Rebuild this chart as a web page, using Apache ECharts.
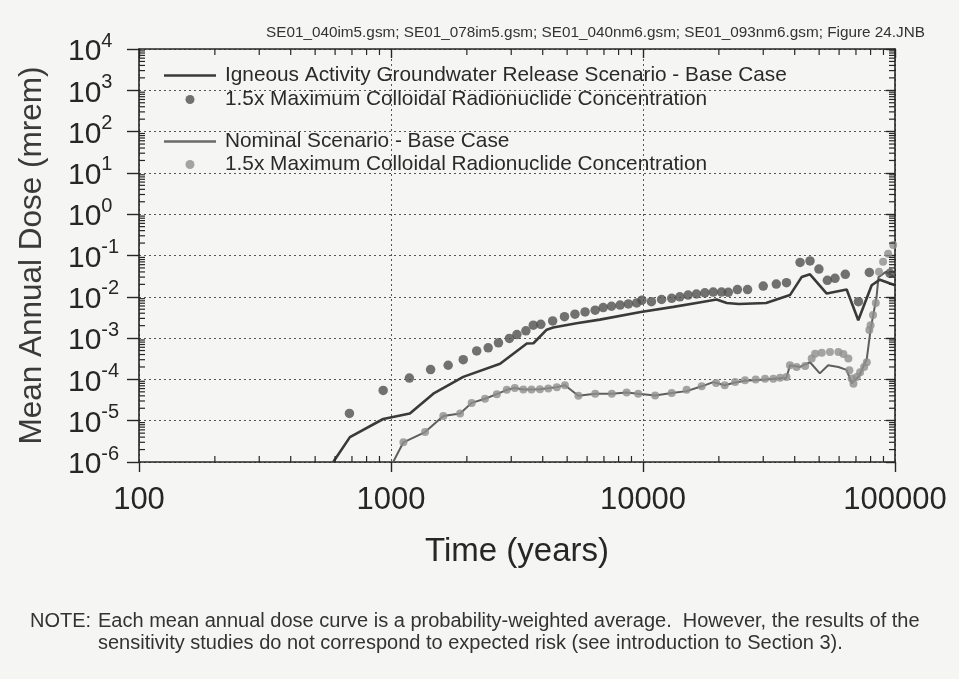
<!DOCTYPE html>
<html>
<head>
<meta charset="utf-8">
<script src="https://cdn.jsdelivr.net/npm/echarts@6/dist/echarts.min.js"></script>
<style>
  html, body { margin: 0; padding: 0; background: #f5f5f3; }
  #chart { width: 959px; height: 679px; }
</style>
</head>
<body>
<div id="chart"></div>
<script>
// Time axis (years) and dose axis (mrem) ranges
const timeRange = [100, 100000];
const doseRange = [1e-6, 1e4];

// Legend texts
const legendLabels = {
  igneousBase: 'Igneous Activity Groundwater Release Scenario - Base Case',
  igneousColloid: '1.5x Maximum Colloidal Radionuclide Concentration',
  nominalBase: 'Nominal Scenario - Base Case',
  nominalColloid: '1.5x Maximum Colloidal Radionuclide Concentration'
};

// Igneous activity, groundwater release, base case [years, mrem]
const igneousBase = [
  [590, 1e-6], [687, 4e-6], [931, 1.1e-5], [1188, 1.5e-5], [1472, 4.5e-5],
  [1935, 1.15e-4], [2710, 2.4e-4], [3460, 7.4e-4], [3675, 7.5e-4], [4150, 1.6e-3],
  [4400, 1.8e-3], [5450, 2.3e-3], [6740, 2.8e-3], [9800, 4.3e-3], [13200, 5.7e-3],
  [16300, 7.1e-3], [19600, 8.6e-3], [21500, 7.1e-3], [24000, 6.7e-3], [30800, 7.1e-3],
  [38300, 1.1e-2], [42600, 3.0e-2], [46000, 3.5e-2], [53600, 1.2e-2], [64300, 1.5e-2],
  [71500, 2.7e-3], [80800, 1.9e-2], [87100, 2.6e-2], [100000, 1.9e-2]
];

// Igneous activity, 1.5x maximum colloidal concentration [years, mrem]
const igneousColloid = [
  [684, 1.5e-5], [931, 5.4e-5], [1183, 1.08e-4], [1436, 1.73e-4], [1686, 2.2e-4],
  [1935, 3.0e-4], [2188, 4.9e-4], [2430, 5.8e-4], [2670, 7.7e-4], [2950, 9.8e-4],
  [3160, 1.22e-3], [3430, 1.5e-3], [3670, 2.06e-3], [3930, 2.15e-3], [4380, 2.6e-3],
  [4880, 3.3e-3], [5370, 3.8e-3], [5890, 4.3e-3], [6460, 4.75e-3], [6950, 5.5e-3],
  [7500, 5.9e-3], [8110, 6.3e-3], [8750, 6.7e-3], [9440, 7.1e-3], [9900, 8.3e-3],
  [10800, 7.6e-3], [11850, 8.6e-3], [13000, 9.2e-3], [14000, 1.0e-2], [15100, 1.1e-2],
  [16300, 1.17e-2], [17600, 1.25e-2], [19000, 1.3e-2], [20500, 1.3e-2], [21800, 1.28e-2],
  [23700, 1.5e-2], [26000, 1.5e-2], [30000, 1.82e-2], [33800, 2.03e-2], [37100, 2.2e-2],
  [42000, 6.8e-2], [46000, 7.4e-2], [49900, 4.7e-2], [53900, 2.5e-2], [57800, 2.8e-2],
  [63500, 3.5e-2], [71600, 7.6e-3], [79100, 3.9e-2], [95500, 3.7e-2]
];

// Nominal scenario, base case [years, mrem]
const nominalBase = [
  [1020, 1e-6], [1120, 3e-6], [1365, 5.3e-6], [1613, 1.3e-5], [1880, 1.5e-5],
  [2090, 2.7e-5], [2360, 3.4e-5], [2630, 4.4e-5], [2880, 5.6e-5], [3100, 6.2e-5],
  [3350, 5.7e-5], [3900, 5.8e-5], [4550, 6.5e-5], [4900, 7.2e-5], [5540, 4.0e-5],
  [6460, 4.5e-5], [7520, 4.5e-5], [8610, 4.8e-5], [9570, 4.5e-5], [11170, 4.1e-5],
  [13000, 4.7e-5], [14900, 5.2e-5], [17100, 6.8e-5], [19000, 8.6e-5], [21100, 7.2e-5],
  [23200, 8.4e-5], [25400, 9.3e-5], [30500, 1.0e-4], [37100, 1.1e-4], [38300, 2.2e-4],
  [42000, 2.0e-4], [46000, 2.6e-4], [50300, 1.4e-4], [54300, 2.2e-4], [59600, 2.0e-4],
  [64300, 1.7e-4], [67300, 8e-5], [72000, 1.2e-4], [77300, 3.2e-4], [80000, 1.6e-3],
  [84500, 1.0e-2], [86000, 3.0e-2], [92000, 4.0e-2], [100000, 3.0e-2]
];

// Nominal scenario, 1.5x maximum colloidal concentration [years, mrem]
const nominalColloid = [
  [1120, 3e-6], [1365, 5.3e-6], [1613, 1.3e-5], [1880, 1.5e-5], [2090, 2.7e-5],
  [2360, 3.4e-5], [2630, 4.4e-5], [2880, 5.6e-5], [3100, 6.2e-5], [3350, 5.7e-5],
  [3610, 5.7e-5], [3900, 5.8e-5], [4210, 6.0e-5], [4550, 6.5e-5], [4900, 7.2e-5],
  [5540, 4.0e-5], [6460, 4.5e-5], [7520, 4.5e-5], [8610, 4.8e-5], [9570, 4.5e-5],
  [11170, 4.1e-5], [13000, 4.7e-5], [14900, 5.65e-5], [17100, 6.8e-5], [19500, 8.2e-5],
  [21100, 7.2e-5], [23200, 8.6e-5], [25400, 9.5e-5], [28000, 9.9e-5], [30500, 1.04e-4],
  [32900, 1.04e-4], [35000, 1.1e-4], [37100, 1.15e-4], [38300, 2.2e-4], [40700, 2.0e-4],
  [44000, 2.1e-4], [46700, 3.2e-4], [48200, 4.2e-4], [51200, 4.4e-4], [55200, 4.6e-4],
  [59600, 4.6e-4], [62400, 4.1e-4], [65300, 3.2e-4], [65900, 1.67e-4], [67300, 1.05e-4],
  [68400, 7.9e-5], [70500, 1.15e-4], [72700, 1.5e-4], [75400, 2.0e-4], [77300, 2.6e-4],
  [79100, 1.56e-3], [80000, 2.06e-3], [81800, 3.6e-3], [83900, 7.1e-3], [86400, 4.05e-2],
  [89700, 7.1e-2], [93900, 0.11], [98400, 0.18]
];

const headerText = 'SE01_040im5.gsm; SE01_078im5.gsm; SE01_040nm6.gsm; SE01_093nm6.gsm; Figure 24.JNB';
const noteLabel = 'NOTE:';
const noteLines = [
  'Each mean annual dose curve is a probability-weighted average.  However, the results of the',
  'sensitivity studies do not correspond to expected risk (see introduction to Section 3).'
];

// Intermediate log positions (2..9 x 10^e) used for the small axis ticks
function minorTickValues(eLo, eHi) {
  const out = [];
  for (let e = eLo; e < eHi; e++) {
    for (let k = 2; k <= 9; k++) out.push(k * Math.pow(10, e));
  }
  return out;
}

const FONT = '"Liberation Sans", Arial, Helvetica, sans-serif';
const INK = '#262626';
const MINOR_LEN = 6;
// plain bar used as the legend key of the curve series
const LINE_ICON = 'path://M0,0H52V2.6H0Z';

const chart = echarts.init(document.getElementById('chart'), null, { renderer: 'canvas' });

const dottedGrid = { show: true, lineStyle: { color: '#555', type: [2, 3], width: 1 } };

const legendText = { fontSize: 20.8, color: '#2a2a2a', fontFamily: FONT, padding: [0, 0, 0, 4] };

chart.setOption({
  backgroundColor: '#f5f5f3',
  animation: false,
  textStyle: { fontFamily: FONT },
  grid: { left: 139, right: 64, top: 49, bottom: 217, containLabel: false },
  xAxis: [
    {
      type: 'log', logBase: 10, min: timeRange[0], max: timeRange[1], splitNumber: 3,
      position: 'bottom',
      name: 'Time (years)', nameLocation: 'middle', nameGap: 73,
      nameTextStyle: { fontSize: 33, color: INK, fontFamily: FONT },
      axisLine: { lineStyle: { color: INK, width: 1.6 } },
      axisTick: { show: true, inside: false, length: 10, lineStyle: { color: INK, width: 1.4 } },
      axisLabel: { fontSize: 31, color: INK, margin: 23, fontFamily: FONT,
        formatter: v => String(Math.round(v)) },
      splitLine: dottedGrid
    },
    {
      type: 'log', logBase: 10, min: timeRange[0], max: timeRange[1], splitNumber: 3,
      position: 'top',
      axisLine: { lineStyle: { color: INK, width: 1.6 } },
      axisTick: { show: true, inside: true, length: 9, lineStyle: { color: INK, width: 1.4 } },
      axisLabel: { show: false },
      splitLine: { show: false }
    }
  ],
  yAxis: [
    {
      type: 'log', logBase: 10, min: doseRange[0], max: doseRange[1], interval: 1,
      position: 'left',
      name: 'Mean Annual Dose (mrem)', nameLocation: 'middle', nameGap: 91, nameRotate: 90,
      nameTextStyle: { fontSize: 31.5, color: '#3a3a3a', fontFamily: FONT },
      axisLine: { lineStyle: { color: INK, width: 1.6 } },
      axisTick: { show: true, inside: false, length: 12, lineStyle: { color: INK, width: 1.4 } },
      axisLabel: {
        margin: 71, align: 'left', color: INK, fontFamily: FONT,
        formatter: v => '{b|10}{s|' + Math.round(Math.log10(v)) + '}',
        rich: {
          b: { fontSize: 30, lineHeight: 36, verticalAlign: 'bottom', color: INK, fontFamily: FONT },
          s: { fontSize: 20, lineHeight: 24, verticalAlign: 'top', color: INK, fontFamily: FONT }
        }
      },
      splitLine: dottedGrid
    },
    {
      type: 'log', logBase: 10, min: doseRange[0], max: doseRange[1], interval: 1,
      position: 'right',
      axisLine: { lineStyle: { color: INK, width: 1.6 } },
      axisTick: { show: true, inside: true, length: 9, lineStyle: { color: INK, width: 1.4 } },
      axisLabel: { show: false },
      splitLine: { show: false }
    }
  ],
  legend: [
    {
      left: 164, top: 65, padding: 0, orient: 'vertical', itemWidth: 52, itemHeight: 9, itemGap: 3,
      selectedMode: false,
      data: [{ name: 'igneousBase', icon: LINE_ICON }, { name: 'igneousColloid', icon: 'circle' }],
      formatter: n => legendLabels[n],
      textStyle: legendText
    },
    {
      left: 164, top: 131, padding: 0, orient: 'vertical', itemWidth: 52, itemHeight: 9, itemGap: 2,
      selectedMode: false,
      data: [{ name: 'nominalBase', icon: LINE_ICON }, { name: 'nominalColloid', icon: 'circle' }],
      formatter: n => legendLabels[n],
      textStyle: legendText
    }
  ],
  graphic: [
    { type: 'text', right: 34, top: 25,
      style: { text: headerText, font: '15.3px ' + FONT, fill: '#333' } },
    { type: 'text', left: 30, top: 611,
      style: { text: noteLabel, font: '20px ' + FONT, fill: '#333' } },
    { type: 'text', left: 98, top: 611,
      style: { text: noteLines[0], font: '20px ' + FONT, fill: '#333' } },
    { type: 'text', left: 98, top: 633,
      style: { text: noteLines[1], font: '20px ' + FONT, fill: '#333' } }
  ],
  series: [
    {
      name: 'nominalBase', type: 'line', data: nominalBase, symbol: 'none',
      lineStyle: { color: '#5e5e5e', width: 2 }, itemStyle: { color: '#6a6a6a' }, z: 3
    },
    {
      name: 'nominalColloid', type: 'scatter', data: nominalColloid, symbol: 'circle', symbolSize: 8,
      itemStyle: { color: '#8e8e8e' }, z: 4
    },
    {
      name: 'igneousBase', type: 'line', data: igneousBase, symbol: 'none',
      lineStyle: { color: '#3a3a3a', width: 2.6 }, itemStyle: { color: '#3a3a3a' }, z: 5
    },
    {
      name: 'igneousColloid', type: 'scatter', data: igneousColloid, symbol: 'circle', symbolSize: 9.5,
      itemStyle: { color: '#505050' }, z: 6
    },
    {
      // small intermediate ticks on the bottom and top edges
      type: 'custom', silent: true, z: 8, xAxisIndex: 0, yAxisIndex: 0,
      data: minorTickValues(2, 5).map(v => [v, 1]),
      renderItem: (params, api) => {
        const cs = params.coordSys;
        const x = api.coord([api.value(0), api.value(1)])[0];
        const b = cs.y + cs.height, t = cs.y;
        const st = { stroke: INK, lineWidth: 1.2 };
        return { type: 'group', children: [
          { type: 'line', shape: { x1: x, y1: b, x2: x, y2: b - MINOR_LEN }, style: st },
          { type: 'line', shape: { x1: x, y1: t, x2: x, y2: t + MINOR_LEN }, style: st }
        ] };
      }
    },
    {
      // small intermediate ticks on the left and right edges
      type: 'custom', silent: true, z: 8, xAxisIndex: 0, yAxisIndex: 0,
      data: minorTickValues(-6, 4).map(v => [1000, v]),
      renderItem: (params, api) => {
        const cs = params.coordSys;
        const y = api.coord([api.value(0), api.value(1)])[1];
        const l = cs.x, r = cs.x + cs.width;
        const st = { stroke: INK, lineWidth: 1.2 };
        return { type: 'group', children: [
          { type: 'line', shape: { x1: l, y1: y, x2: l + MINOR_LEN, y2: y }, style: st },
          { type: 'line', shape: { x1: r, y1: y, x2: r - MINOR_LEN, y2: y }, style: st }
        ] };
      }
    }
  ]
});
</script>
</body>
</html>
